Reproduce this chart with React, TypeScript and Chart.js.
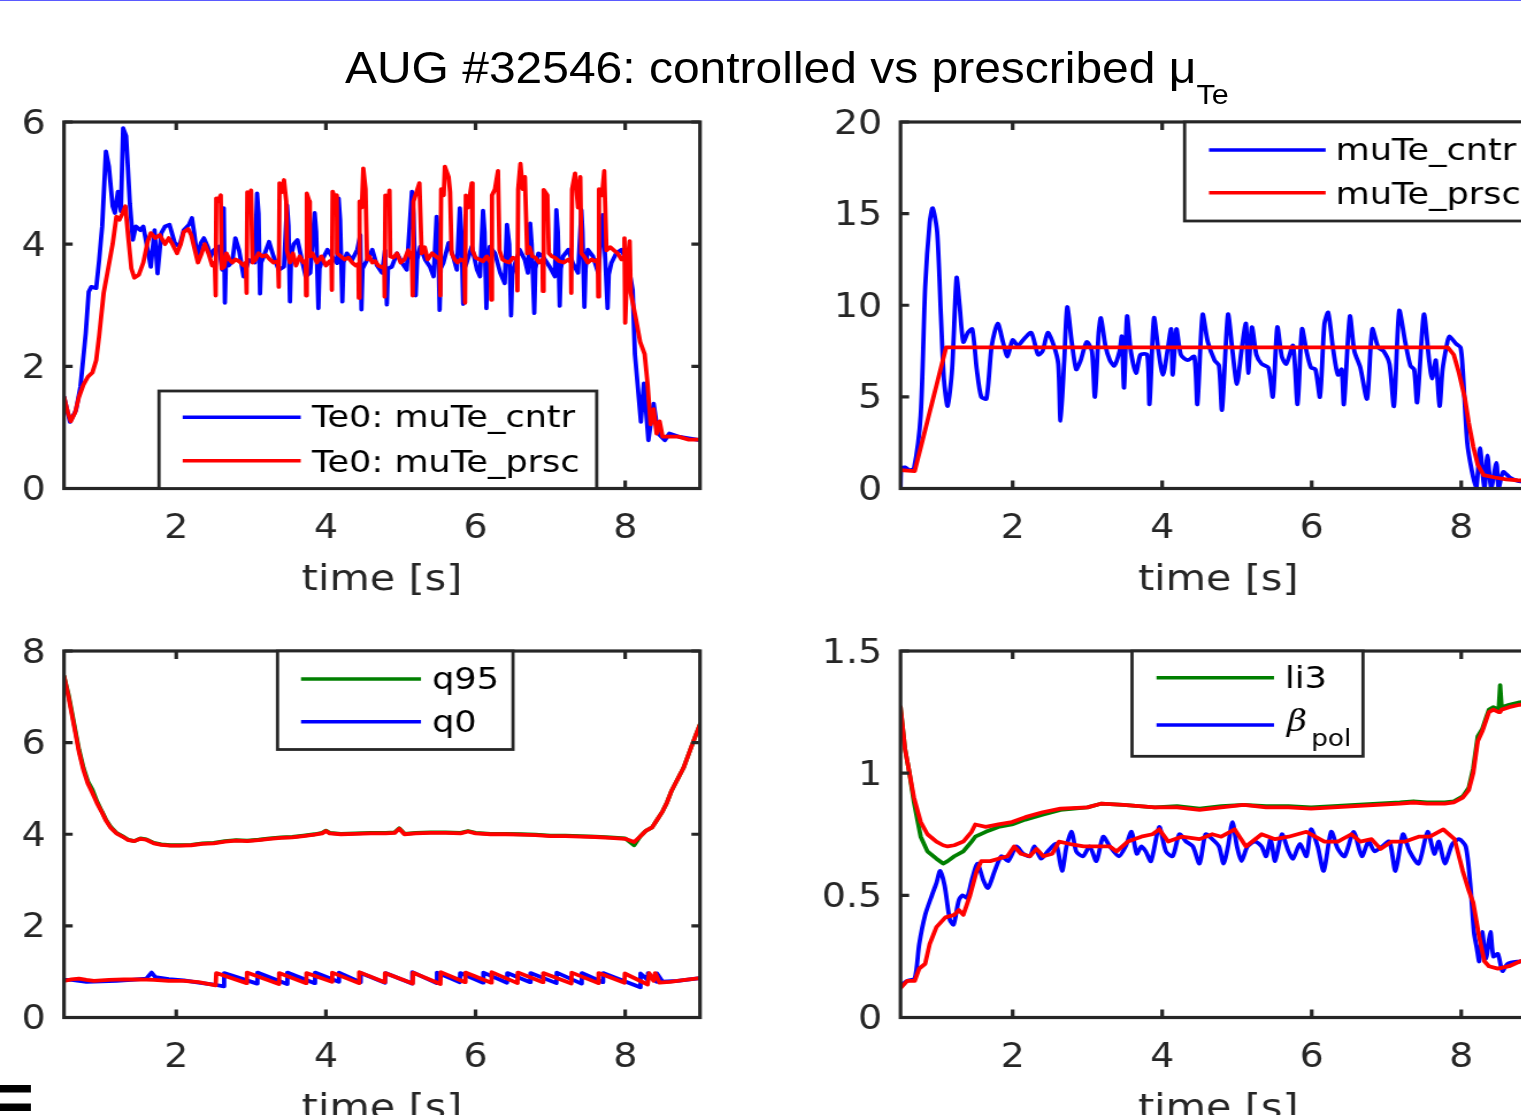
import React, { useEffect, useRef } from "react";
import { Chart, registerables } from "chart.js";
Chart.register(...registerables);

// ---------------- data ----------------
const xTicks = [2, 4, 6, 8];
const tlYTicks = [0, 2, 4, 6];
const trYTicks = [0, 5, 10, 15, 20];
const blYTicks = [0, 2, 4, 6, 8];
const brYTicks = [0, 0.5, 1, 1.5];

// Top-left: Te0, controlled (blue)
const teCntrT = [0.5, 0.58, 0.66, 0.72, 0.79, 0.83, 0.865, 0.93, 0.97, 1.01, 1.06, 1.1, 1.15, 1.18, 1.22, 1.26, 1.29, 1.33, 1.38, 1.42, 1.46, 1.52, 1.56, 1.61, 1.66, 1.71, 1.75, 1.8, 1.85, 1.91, 1.98, 2.04, 2.1, 2.17, 2.21, 2.24, 2.28, 2.33, 2.37, 2.42, 2.46, 2.5, 2.57, 2.615, 2.635, 2.65, 2.665, 2.7, 2.75, 2.79, 2.84, 2.9, 2.97, 3.05, 3.08, 3.1, 3.12, 3.135, 3.17, 3.24, 3.3, 3.37, 3.44, 3.48, 3.5, 3.52, 3.535, 3.57, 3.62, 3.68, 3.73, 3.79, 3.85, 3.87, 3.9, 3.915, 3.95, 4.02, 4.08, 4.15, 4.17, 4.19, 4.22, 4.235, 4.28, 4.35, 4.42, 4.46, 4.475, 4.49, 4.55, 4.62, 4.68, 4.75, 4.79, 4.815, 4.83, 4.88, 4.95, 5.02, 5.08, 5.15, 5.17, 5.2, 5.22, 5.26, 5.33, 5.39, 5.44, 5.48, 5.5, 5.52, 5.535, 5.57, 5.64, 5.7, 5.75, 5.79, 5.81, 5.835, 5.85, 5.88, 5.95, 6.02, 6.06, 6.1, 6.12, 6.145, 6.16, 6.19, 6.26, 6.33, 6.39, 6.42, 6.45, 6.475, 6.49, 6.53, 6.59, 6.66, 6.7, 6.73, 6.75, 6.785, 6.8, 6.84, 6.9, 6.99, 7.06, 7.08, 7.1, 7.125, 7.14, 7.17, 7.24, 7.3, 7.37, 7.415, 7.43, 7.455, 7.47, 7.5, 7.57, 7.64, 7.7, 7.72, 7.765, 7.78, 7.815, 7.88, 7.95, 8.015, 8.06, 8.1, 8.13, 8.21, 8.25, 8.31, 8.38, 8.44, 8.53, 8.59, 8.71, 8.85, 9.0];
const teCntrV = [1.5, 1.09, 1.28, 1.67, 2.54, 3.22, 3.3, 3.28, 3.74, 4.29, 5.52, 5.27, 4.62, 4.51, 4.86, 4.54, 5.9, 5.77, 4.67, 4.07, 4.29, 4.23, 4.29, 3.96, 3.63, 4.23, 3.52, 4.18, 4.29, 4.32, 4.02, 3.96, 4.23, 4.32, 4.43, 4.18, 3.8, 4.02, 4.1, 3.96, 3.8, 3.9, 3.96, 3.58, 4.59, 3.04, 3.75, 3.65, 3.72, 4.1, 3.9, 3.47, 3.74, 3.7, 4.83, 4.5, 3.19, 3.7, 3.8, 4.04, 3.8, 3.58, 3.63, 4.64, 4.3, 3.06, 3.8, 4.0, 4.07, 3.74, 3.47, 3.53, 4.51, 4.2, 2.95, 3.6, 3.74, 3.91, 3.8, 3.69, 4.75, 4.4, 3.06, 3.7, 3.85, 3.74, 3.91, 4.15, 2.93, 3.6, 3.74, 3.91, 3.66, 3.53, 3.9, 3.01, 3.6, 3.63, 3.85, 3.69, 3.58, 4.86, 4.5, 3.16, 3.75, 3.96, 3.74, 3.63, 3.47, 4.45, 4.1, 2.92, 3.6, 3.69, 4.02, 3.8, 3.58, 4.59, 4.2, 3.02, 3.6, 3.69, 3.96, 3.58, 3.47, 4.55, 4.2, 2.95, 3.7, 3.96, 3.85, 3.53, 3.36, 4.32, 4.0, 2.83, 3.5, 3.69, 3.91, 3.74, 3.53, 4.34, 4.0, 2.87, 3.6, 3.85, 3.8, 3.63, 3.47, 4.56, 4.2, 2.99, 3.6, 3.8, 3.91, 3.69, 3.53, 4.56, 4.2, 2.97, 3.6, 3.91, 3.8, 3.53, 4.48, 4.1, 2.95, 3.5, 3.69, 3.85, 3.91, 3.74, 3.53, 3.25, 2.2, 1.09, 1.72, 0.79, 1.39, 0.9, 0.79, 0.9, 0.85, 0.82, 0.79];

// Top-left: Te0, prescribed (red)
const tePrscT = [0.5, 0.55, 0.59, 0.65, 0.7, 0.76, 0.82, 0.88, 0.93, 0.97, 1.03, 1.09, 1.15, 1.2, 1.24, 1.28, 1.32, 1.36, 1.4, 1.44, 1.5, 1.56, 1.62, 1.66, 1.72, 1.78, 1.85, 1.9, 1.95, 2.01, 2.06, 2.1, 2.16, 2.2, 2.25, 2.29, 2.34, 2.38, 2.43, 2.48, 2.515, 2.527, 2.535, 2.555, 2.595, 2.607, 2.64, 2.67, 2.71, 2.75, 2.79, 2.84, 2.9, 2.93, 2.94, 2.95, 2.98, 3.0, 3.02, 3.06, 3.1, 3.15, 3.2, 3.25, 3.3, 3.36, 3.37, 3.38, 3.41, 3.44, 3.47, 3.48, 3.52, 3.56, 3.6, 3.65, 3.7, 3.73, 3.735, 3.745, 3.78, 3.785, 3.82, 3.88, 3.94, 4.0, 4.05, 4.075, 4.08, 4.09, 4.12, 4.145, 4.15, 4.2, 4.25, 4.3, 4.35, 4.4, 4.435, 4.44, 4.45, 4.48, 4.5, 4.53, 4.55, 4.58, 4.62, 4.66, 4.7, 4.75, 4.78, 4.785, 4.795, 4.83, 4.85, 4.86, 4.9, 4.95, 5.0, 5.05, 5.1, 5.15, 5.16, 5.17, 5.21, 5.25, 5.28, 5.32, 5.36, 5.42, 5.47, 5.52, 5.53, 5.54, 5.575, 5.59, 5.64, 5.66, 5.68, 5.72, 5.76, 5.8, 5.85, 5.86, 5.87, 5.9, 5.95, 5.96, 6.0, 6.05, 6.1, 6.15, 6.2, 6.21, 6.22, 6.26, 6.3, 6.32, 6.36, 6.4, 6.45, 6.5, 6.55, 6.56, 6.57, 6.6, 6.63, 6.66, 6.69, 6.72, 6.76, 6.8, 6.85, 6.895, 6.9, 6.91, 6.96, 6.98, 7.02, 7.06, 7.12, 7.18, 7.24, 7.275, 7.28, 7.29, 7.33, 7.37, 7.4, 7.415, 7.45, 7.5, 7.55, 7.6, 7.635, 7.64, 7.65, 7.69, 7.72, 7.75, 7.8, 7.85, 7.9, 7.95, 7.985, 7.99, 8.0, 8.03, 8.06, 8.075, 8.14, 8.2, 8.26, 8.3, 8.34, 8.38, 8.42, 8.46, 8.5, 8.6, 8.71, 8.85, 9.0];
const tePrscV = [1.5, 1.25, 1.1, 1.25, 1.5, 1.7, 1.83, 1.9, 2.1, 2.5, 3.2, 3.6, 4.0, 4.45, 4.4, 4.5, 4.62, 4.1, 3.6, 3.45, 3.5, 3.7, 4.05, 4.18, 4.1, 4.15, 4.0, 4.1, 4.0, 3.85, 4.0, 4.2, 4.25, 4.15, 3.9, 3.7, 3.85, 4.0, 3.85, 3.65, 3.7, 3.16, 4.75, 4.7, 4.8, 3.6, 3.63, 3.85, 3.75, 3.7, 3.75, 3.72, 3.65, 3.7, 3.2, 4.85, 4.8, 4.88, 3.7, 3.75, 3.85, 3.8, 3.82, 3.75, 3.7, 3.72, 3.3, 5.0, 4.85, 5.05, 4.7, 3.9, 3.7, 3.85, 3.65, 3.8, 3.7, 3.72, 3.16, 4.83, 4.7, 3.8, 3.85, 3.7, 3.8, 3.65, 3.72, 3.7, 3.25, 4.86, 4.75, 4.8, 3.85, 3.8, 3.75, 3.78, 3.7, 3.65, 3.68, 3.12, 4.7, 4.6, 5.24, 4.9, 3.75, 3.8, 3.7, 3.72, 3.65, 3.62, 3.65, 3.14, 4.8, 4.65, 4.88, 3.8, 3.78, 3.85, 3.7, 3.75, 3.9, 3.75, 3.16, 4.7, 4.85, 5.0, 3.85, 3.95, 3.75, 3.85, 3.8, 3.75, 3.16, 4.9, 4.8, 5.27, 5.1, 4.85, 3.85, 3.75, 3.7, 3.75, 3.72, 3.04, 4.8, 4.6, 5.0, 3.9, 3.78, 3.75, 3.72, 3.8, 3.7, 3.09, 4.8, 4.9, 5.2, 3.9, 3.75, 3.72, 3.7, 3.78, 3.75, 3.24, 4.9, 5.32, 4.9, 5.1, 3.85, 3.95, 3.8, 3.78, 3.7, 3.75, 3.23, 4.89, 4.8, 3.85, 3.8, 3.78, 3.72, 3.7, 3.75, 3.7, 3.2, 4.9, 5.16, 4.6, 5.1, 3.85, 3.8, 3.7, 3.75, 3.72, 3.75, 3.14, 4.9, 4.8, 5.2, 3.9, 3.95, 3.9, 3.85, 3.75, 3.8, 4.1, 2.71, 3.7, 4.05, 3.2, 2.8, 2.4, 2.2, 1.7, 1.05, 1.3, 0.9, 1.1, 0.85, 0.85, 0.85, 0.8, 0.8];

// Top-right: muTe
const muCntrT = [0.5, 0.51, 0.56, 0.62, 0.68, 0.77, 0.83, 0.89, 0.93, 0.99, 1.04, 1.08, 1.13, 1.19, 1.25, 1.29, 1.34, 1.4, 1.46, 1.52, 1.58, 1.65, 1.72, 1.8, 1.87, 1.93, 2.0, 2.07, 2.16, 2.25, 2.34, 2.4, 2.47, 2.55, 2.61, 2.64, 2.69, 2.73, 2.79, 2.85, 2.91, 2.99, 3.06, 3.1, 3.15, 3.18, 3.24, 3.3, 3.36, 3.43, 3.46, 3.49, 3.53, 3.58, 3.65, 3.71, 3.8, 3.83, 3.89, 3.95, 4.01, 4.07, 4.12, 4.14, 4.19, 4.25, 4.34, 4.43, 4.47, 4.54, 4.61, 4.7, 4.76, 4.8, 4.88, 4.94, 5.0, 5.06, 5.12, 5.15, 5.2, 5.26, 5.33, 5.42, 5.48, 5.54, 5.6, 5.66, 5.75, 5.81, 5.87, 5.93, 5.99, 6.05, 6.11, 6.17, 6.22, 6.29, 6.35, 6.4, 6.43, 6.51, 6.57, 6.65, 6.74, 6.81, 6.89, 6.96, 7.04, 7.1, 7.17, 7.25, 7.32, 7.37, 7.41, 7.5, 7.57, 7.61, 7.66, 7.71, 7.75, 7.81, 7.84, 7.93, 7.99, 8.02, 8.08, 8.14, 8.2, 8.25, 8.31, 8.35, 8.4, 8.47, 8.5, 8.56, 8.65, 8.77, 9.0];
const muCntrV = [0.0, 1.1, 1.15, 1.0, 1.1, 4.0, 11.0, 14.5, 15.3, 14.0, 9.5, 6.0, 4.5, 6.5, 11.5, 10.0, 8.0, 8.5, 8.7, 6.5, 5.0, 4.9, 7.8, 9.0, 8.0, 7.2, 8.1, 7.8, 8.2, 8.5, 7.3, 7.5, 8.5, 7.8, 6.8, 3.7, 7.0, 9.9, 8.0, 6.5, 7.0, 8.0, 7.5, 5.0, 8.5, 9.3, 7.8, 7.0, 6.7, 7.5, 8.3, 5.5, 9.4, 7.5, 6.3, 7.3, 7.3, 4.6, 9.3, 7.5, 6.2, 7.5, 8.7, 6.2, 8.7, 7.3, 7.0, 7.2, 4.6, 9.5, 8.0, 7.0, 6.7, 4.3, 9.5, 7.5, 5.7, 7.5, 9.0, 6.3, 8.8, 7.3, 6.8, 6.6, 5.0, 8.8, 7.2, 6.8, 7.8, 4.6, 8.7, 7.5, 6.6, 6.5, 5.0, 9.0, 9.6, 7.5, 6.2, 6.5, 4.6, 9.4, 7.5, 6.6, 4.9, 8.7, 7.7, 7.5, 6.8, 4.5, 9.7, 8.0, 6.7, 6.5, 4.7, 9.5, 7.0, 6.0, 7.0, 4.5, 6.5, 7.9, 8.3, 7.9, 7.7, 6.5, 2.5, 1.0, 0.0, 2.2, 0.0, 1.8, 0.0, 1.4, 0.0, 0.9, 0.6, 0.4, 0.35];
const muPrscT = [0.5, 0.69, 1.11, 7.82, 7.9, 7.97, 8.05, 8.1, 8.16, 8.22, 8.3, 8.45, 8.6, 8.75, 9.0];
const muPrscV = [1.0, 0.95, 7.7, 7.7, 7.3, 6.3, 4.9, 3.6, 2.3, 1.3, 0.73, 0.6, 0.5, 0.45, 0.4];

// Bottom-left: q95 and q0
const q95T = [0.5, 0.56, 0.63, 0.7, 0.76, 0.82, 0.88, 0.94, 1.0, 1.06, 1.12, 1.2, 1.28, 1.36, 1.44, 1.52, 1.6, 1.7, 1.8, 1.92, 2.05, 2.2, 2.35, 2.5, 2.65, 2.8, 2.95, 3.1, 3.25, 3.4, 3.55, 3.7, 3.85, 3.95, 4.0, 4.05, 4.2, 4.4, 4.6, 4.8, 4.92, 4.98, 5.05, 5.2, 5.4, 5.6, 5.8, 5.9, 6.0, 6.2, 6.4, 6.6, 6.8, 7.0, 7.2, 7.4, 7.6, 7.8, 8.0, 8.12, 8.2, 8.28, 8.36, 8.44, 8.5, 8.56, 8.62, 8.7, 8.78, 8.86, 8.94, 9.0];
const q95CntrV = [7.45, 7.05, 6.45, 5.85, 5.45, 5.15, 4.97, 4.72, 4.52, 4.32, 4.17, 4.03, 3.96, 3.88, 3.85, 3.91, 3.89, 3.81, 3.78, 3.76, 3.76, 3.77, 3.8, 3.81, 3.85, 3.87, 3.86, 3.88, 3.91, 3.93, 3.94, 3.97, 4.0, 4.03, 4.08, 4.03, 4.01, 4.02, 4.03, 4.03, 4.04, 4.13, 4.01, 4.03, 4.04, 4.04, 4.03, 4.07, 4.03, 4.01, 4.01, 4.0, 3.99, 3.97, 3.97, 3.96, 3.95, 3.93, 3.91, 3.76, 3.95, 4.08, 4.15, 4.35, 4.5, 4.7, 4.95, 5.2, 5.45, 5.8, 6.15, 6.4];
const q95PrscV = [7.45, 7.0, 6.4, 5.8, 5.4, 5.1, 4.9, 4.68, 4.5, 4.3, 4.15, 4.02, 3.95, 3.87, 3.85, 3.9, 3.88, 3.8, 3.77, 3.75, 3.75, 3.76, 3.79, 3.8, 3.84, 3.86, 3.85, 3.87, 3.9, 3.92, 3.93, 3.96, 3.99, 4.02, 4.07, 4.02, 4.0, 4.01, 4.02, 4.02, 4.03, 4.12, 4.0, 4.02, 4.03, 4.03, 4.02, 4.06, 4.02, 4.0, 4.0, 3.99, 3.98, 3.96, 3.96, 3.95, 3.94, 3.92, 3.9, 3.83, 3.95, 4.08, 4.15, 4.35, 4.5, 4.7, 4.95, 5.2, 5.45, 5.8, 6.15, 6.4];
const q0CntrT = [0.5, 0.6, 0.7, 0.8, 1.0, 1.2, 1.4, 1.6, 1.67, 1.72, 1.9, 2.1, 2.3, 2.5, 2.635, 2.64, 3.08, 3.085, 3.48, 3.485, 3.85, 3.855, 4.17, 4.175, 4.46, 4.465, 4.79, 4.795, 5.15, 5.155, 5.48, 5.485, 5.79, 5.795, 6.1, 6.105, 6.42, 6.425, 6.73, 6.735, 7.08, 7.085, 7.415, 7.42, 7.7, 7.705, 8.2, 8.205, 8.3, 8.305, 8.42, 8.425, 8.5, 8.7, 9.0];
const q0CntrV = [0.82, 0.82, 0.8, 0.78, 0.79, 0.8, 0.82, 0.85, 0.98, 0.88, 0.84, 0.81, 0.76, 0.72, 0.68, 0.97, 0.74, 0.98, 0.73, 0.98, 0.75, 0.98, 0.78, 0.98, 0.77, 0.97, 0.76, 0.97, 0.74, 0.99, 0.75, 0.98, 0.77, 0.97, 0.76, 0.98, 0.76, 0.97, 0.77, 0.97, 0.75, 0.98, 0.74, 0.97, 0.77, 0.97, 0.66, 0.96, 0.82, 0.97, 0.78, 0.96, 0.78, 0.8, 0.86];
const q0PrscT = [0.5, 0.6, 0.7, 0.8, 0.9, 1.1, 1.3, 1.5, 1.7, 1.9, 2.1, 2.3, 2.527, 2.535, 2.94, 2.945, 3.37, 3.375, 3.735, 3.74, 4.08, 4.085, 4.44, 4.445, 4.785, 4.79, 5.16, 5.165, 5.53, 5.535, 5.86, 5.865, 6.21, 6.215, 6.56, 6.565, 6.9, 6.905, 7.28, 7.285, 7.64, 7.645, 7.99, 7.995, 8.3, 8.32, 8.38, 8.4, 8.46, 8.6, 8.8, 9.0];
const q0PrscV = [0.8, 0.83, 0.85, 0.82, 0.8, 0.82, 0.83, 0.83, 0.82, 0.8, 0.8, 0.77, 0.7, 0.97, 0.75, 0.98, 0.73, 0.97, 0.75, 0.97, 0.78, 0.98, 0.75, 0.99, 0.77, 0.97, 0.74, 0.98, 0.73, 0.99, 0.77, 0.98, 0.76, 0.99, 0.75, 0.98, 0.77, 0.97, 0.74, 0.98, 0.75, 0.97, 0.76, 0.96, 0.72, 0.97, 0.8, 0.97, 0.76, 0.78, 0.82, 0.86];

// Bottom-right: li3 and beta_pol
const li3T = [0.5, 0.56, 0.62, 0.68, 0.77, 0.86, 0.98, 1.07, 1.13, 1.22, 1.34, 1.45, 1.5, 1.64, 1.81, 1.99, 2.17, 2.4, 2.64, 3.0, 3.18, 3.48, 3.9, 4.2, 4.5, 4.79, 5.09, 5.39, 5.69, 5.99, 6.29, 6.58, 6.88, 7.18, 7.36, 7.54, 7.78, 7.9, 8.02, 8.1, 8.16, 8.22, 8.28, 8.37, 8.43, 8.5, 8.52, 8.54, 8.64, 8.78, 9.0];
const li3CntrV = [1.27, 1.1, 1.0, 0.88, 0.74, 0.68, 0.65, 0.63, 0.64, 0.66, 0.68, 0.72, 0.74, 0.76, 0.78, 0.79, 0.81, 0.83, 0.85, 0.86, 0.875, 0.87, 0.86, 0.865, 0.855, 0.865, 0.87, 0.865, 0.865, 0.86, 0.865, 0.87, 0.875, 0.88, 0.885, 0.88, 0.88, 0.885, 0.905, 0.94, 1.02, 1.15, 1.18, 1.26, 1.27, 1.26, 1.36, 1.27, 1.28, 1.29, 1.3];
const li3PrscV = [1.27, 1.1, 1.0, 0.9, 0.8, 0.75, 0.72, 0.705, 0.7, 0.705, 0.72, 0.76, 0.79, 0.78, 0.79, 0.8, 0.82, 0.84, 0.855, 0.86, 0.875, 0.87, 0.86, 0.86, 0.85, 0.86, 0.87, 0.86, 0.86, 0.855, 0.86, 0.865, 0.87, 0.875, 0.88, 0.875, 0.875, 0.88, 0.9, 0.93, 1.0, 1.13, 1.17, 1.25, 1.26, 1.25, 1.25, 1.26, 1.27, 1.28, 1.29];
const bpCntrT = [0.5, 0.59, 0.69, 0.75, 0.83, 0.92, 0.98, 1.03, 1.09, 1.16, 1.21, 1.28, 1.33, 1.39, 1.46, 1.53, 1.61, 1.67, 1.76, 1.85, 1.94, 2.05, 2.14, 2.23, 2.29, 2.38, 2.47, 2.58, 2.66, 2.72, 2.79, 2.85, 2.94, 3.03, 3.12, 3.21, 3.3, 3.42, 3.51, 3.59, 3.66, 3.72, 3.78, 3.85, 3.96, 4.05, 4.14, 4.23, 4.32, 4.41, 4.5, 4.58, 4.67, 4.76, 4.82, 4.88, 4.94, 5.0, 5.06, 5.14, 5.24, 5.33, 5.39, 5.45, 5.51, 5.6, 5.69, 5.75, 5.84, 5.93, 5.99, 6.08, 6.16, 6.26, 6.35, 6.44, 6.56, 6.67, 6.76, 6.84, 6.94, 7.04, 7.12, 7.22, 7.31, 7.43, 7.55, 7.64, 7.7, 7.78, 7.88, 7.97, 8.06, 8.12, 8.17, 8.21, 8.24, 8.28, 8.33, 8.39, 8.43, 8.49, 8.55, 8.62, 8.79, 9.0];
const bpCntrV = [0.13, 0.15, 0.16, 0.3, 0.42, 0.5, 0.55, 0.6, 0.54, 0.4, 0.38, 0.48, 0.5, 0.49, 0.57, 0.63, 0.56, 0.53, 0.6, 0.66, 0.64, 0.7, 0.67, 0.66, 0.7, 0.65, 0.68, 0.71, 0.6, 0.7, 0.76, 0.68, 0.66, 0.7, 0.64, 0.74, 0.7, 0.66, 0.7, 0.76, 0.67, 0.7, 0.68, 0.64, 0.78, 0.68, 0.66, 0.75, 0.72, 0.7, 0.63, 0.75, 0.73, 0.7, 0.63, 0.7, 0.8, 0.7, 0.64, 0.7, 0.72, 0.7, 0.66, 0.73, 0.64, 0.75, 0.68, 0.65, 0.71, 0.66, 0.77, 0.7, 0.6, 0.76, 0.69, 0.66, 0.76, 0.66, 0.72, 0.68, 0.7, 0.72, 0.6, 0.75, 0.68, 0.63, 0.76, 0.67, 0.72, 0.63, 0.71, 0.73, 0.7, 0.55, 0.35, 0.28, 0.23, 0.35, 0.24, 0.35, 0.25, 0.26, 0.19, 0.22, 0.23, 0.24];
const bpPrscT = [0.5, 0.59, 0.69, 0.75, 0.83, 0.89, 0.98, 1.1, 1.22, 1.28, 1.34, 1.43, 1.52, 1.58, 1.7, 1.81, 1.93, 2.02, 2.11, 2.23, 2.32, 2.41, 2.53, 2.62, 2.77, 2.95, 3.12, 3.3, 3.39, 3.54, 3.72, 3.87, 3.96, 4.08, 4.26, 4.5, 4.67, 4.79, 4.97, 5.12, 5.33, 5.51, 5.69, 5.93, 6.17, 6.35, 6.53, 6.65, 6.8, 6.92, 7.07, 7.25, 7.43, 7.58, 7.76, 7.91, 8.02, 8.1, 8.16, 8.24, 8.31, 8.37, 8.49, 8.64, 8.79, 9.0];
const bpPrscV = [0.12, 0.15, 0.15, 0.2, 0.22, 0.3, 0.37, 0.41, 0.42, 0.44, 0.42, 0.5, 0.6, 0.64, 0.64, 0.65, 0.66, 0.7, 0.67, 0.66, 0.69, 0.66, 0.67, 0.72, 0.71, 0.7, 0.7, 0.7, 0.68, 0.72, 0.74, 0.75, 0.77, 0.72, 0.74, 0.73, 0.75, 0.74, 0.77, 0.7, 0.75, 0.73, 0.74, 0.76, 0.72, 0.72, 0.75, 0.72, 0.73, 0.69, 0.72, 0.72, 0.74, 0.74, 0.77, 0.73, 0.6, 0.52, 0.47, 0.33, 0.23, 0.21, 0.2, 0.21, 0.23, 0.25];

// ---------------- styling / layout ----------------
const SX = 1.15; // horizontal stretch of each panel
const CANVAS_H = 520;
const TEXT = "#262626";
const BLUE = "#0000ff";
const RED = "#ff0000";
const GREEN = "#007f00";
const FONT = '"DejaVu Sans", sans-serif';
const LW = 3.8;

type Line = { label: string; color: string; t: number[]; v: number[]; order: number; tension?: number };
type LegendRow = { line: number; y: number; base: number; greek?: string; sub?: string };
type Legend = { x0: number; y0: number; x1: number; y1: number; lx0: number; lx1: number; tx: number; rows: LegendRow[] };
type PanelCfg = {
  wrapLeft: number; canvasTop: number; canvasW: number;
  plotLeft: number; plotRight: number; plotTop: number; plotBottom: number;
  yMin: number; yMax: number; yTicks: number[];
  lines: Line[]; legend: Legend;
};

const PANELS: PanelCfg[] = [
  {
    wrapLeft: 0, canvasTop: 100, canvasW: 661,
    plotLeft: 64, plotRight: 700, plotTop: 122, plotBottom: 488.5,
    yMin: 0, yMax: 6, yTicks: tlYTicks,
    lines: [
      { label: "Te0: muTe_cntr", color: BLUE, t: teCntrT, v: teCntrV, order: 2 },
      { label: "Te0: muTe_prsc", color: RED, t: tePrscT, v: tePrscV, order: 1 },
    ],
    legend: { x0: 159, y0: 391, x1: 596.7, y1: 488.5, lx0: 182.7, lx1: 300.7, tx: 312,
      rows: [{ line: 0, y: 417.3, base: 427.3 }, { line: 1, y: 460.7, base: 471.7 }] },
  },
  {
    wrapLeft: 760, canvasTop: 100, canvasW: 720,
    plotLeft: 900.5, plotRight: 1536, plotTop: 122, plotBottom: 488.5,
    yMin: 0, yMax: 20, yTicks: trYTicks,
    lines: [
      { label: "muTe_cntr", color: BLUE, t: muCntrT, v: muCntrV, order: 2, tension: 0.25 },
      { label: "muTe_prsc", color: RED, t: muPrscT, v: muPrscV, order: 1 },
    ],
    legend: { x0: 1184.6, y0: 122, x1: 1700, y1: 221, lx0: 1209, lx1: 1325.6, tx: 1335.5,
      rows: [{ line: 0, y: 150, base: 160 }, { line: 1, y: 192.7, base: 204 }] },
  },
  {
    wrapLeft: 0, canvasTop: 629, canvasW: 661,
    plotLeft: 64, plotRight: 700, plotTop: 651, plotBottom: 1017.5,
    yMin: 0, yMax: 8, yTicks: blYTicks,
    lines: [
      { label: "q95", color: GREEN, t: q95T, v: q95CntrV, order: 3 },
      { label: "q0", color: BLUE, t: q0CntrT, v: q0CntrV, order: 3 },
      { label: "q95 prsc", color: RED, t: q95T, v: q95PrscV, order: 1 },
      { label: "q0 prsc", color: RED, t: q0PrscT, v: q0PrscV, order: 1 },
    ],
    legend: { x0: 277.5, y0: 651, x1: 513, y1: 749.5, lx0: 301, lx1: 421, tx: 432,
      rows: [{ line: 0, y: 679, base: 689.3 }, { line: 1, y: 721.7, base: 731.7 }] },
  },
  {
    wrapLeft: 760, canvasTop: 629, canvasW: 720,
    plotLeft: 900.5, plotRight: 1536, plotTop: 651, plotBottom: 1017.5,
    yMin: 0, yMax: 1.5, yTicks: brYTicks,
    lines: [
      { label: "li3", color: GREEN, t: li3T, v: li3CntrV, order: 3 },
      { label: "β", color: BLUE, t: bpCntrT, v: bpCntrV, order: 3, tension: 0.25 },
      { label: "li3 prsc", color: RED, t: li3T, v: li3PrscV, order: 1 },
      { label: "βpol prsc", color: RED, t: bpPrscT, v: bpPrscV, order: 1 },
    ],
    legend: { x0: 1132, y0: 651, x1: 1363, y1: 756.3, lx0: 1156.5, lx1: 1274, tx: 1285,
      rows: [{ line: 0, y: 677.7, base: 688.3 }, { line: 1, y: 725, base: 731, greek: "β", sub: "pol" }] },
  },
];

function framePlugin(cfg: PanelCfg) {
  const dx = (xs: number) => (xs - cfg.wrapLeft) / SX;
  const dy = (ys: number) => ys - cfg.canvasTop;
  return {
    id: "frame",
    afterDatasetsDraw(chart: any) {
      const { ctx, chartArea: a, scales } = chart;
      ctx.save();
      ctx.strokeStyle = TEXT;
      ctx.lineWidth = 3.2;
      ctx.lineCap = "butt";
      ctx.beginPath();
      for (const v of xTicks) {
        const px = scales.x.getPixelForValue(v);
        ctx.moveTo(px, a.bottom); ctx.lineTo(px, a.bottom - 8);
        ctx.moveTo(px, a.top); ctx.lineTo(px, a.top + 8);
      }
      for (const v of cfg.yTicks) {
        const py = scales.y.getPixelForValue(v);
        ctx.moveTo(a.left, py); ctx.lineTo(a.left + 7.5, py);
        ctx.moveTo(a.right, py); ctx.lineTo(a.right - 7.5, py);
      }
      ctx.stroke();
      ctx.strokeRect(a.left, a.top, a.right - a.left, a.bottom - a.top);

      // legend
      const L = cfg.legend;
      const x0 = dx(L.x0), x1 = dx(L.x1), y0 = dy(L.y0), y1 = dy(L.y1);
      ctx.fillStyle = "#ffffff";
      ctx.fillRect(x0, y0, x1 - x0, y1 - y0);
      ctx.lineWidth = 2.8;
      ctx.strokeStyle = TEXT;
      ctx.strokeRect(x0, y0, x1 - x0, y1 - y0);
      for (const r of L.rows) {
        const ln = cfg.lines[r.line];
        ctx.strokeStyle = ln.color;
        ctx.lineWidth = 3.6;
        ctx.beginPath();
        ctx.moveTo(dx(L.lx0), dy(r.y));
        ctx.lineTo(dx(L.lx1), dy(r.y));
        ctx.stroke();
        ctx.fillStyle = "#000000";
        ctx.textBaseline = "alphabetic";
        ctx.textAlign = "left";
        if (r.greek) {
          ctx.font = `italic 30px "DejaVu Serif", serif`;
          ctx.fillText(r.greek, dx(L.tx + 2), dy(r.base));
          ctx.font = `23px ${FONT}`;
          ctx.fillText(r.sub || "", dx(1311), dy(746));
        } else {
          ctx.font = `30.5px ${FONT}`;
          ctx.fillText(ln.label, dx(L.tx), dy(r.base));
        }
      }
      ctx.restore();
    },
  };
}

function Panel({ cfg }: { cfg: PanelCfg }) {
  const ref = useRef<HTMLCanvasElement | null>(null);
  useEffect(() => {
    const c = ref.current;
    if (!c) return;
    const areaL = (cfg.plotLeft - cfg.wrapLeft) / SX;
    const areaR = (cfg.plotRight - cfg.wrapLeft) / SX;
    const padTop = cfg.plotTop - cfg.canvasTop;
    const plotH = cfg.plotBottom - cfg.plotTop;
    const chart = new Chart(c, {
      type: "line",
      data: {
        datasets: cfg.lines.map((l) => ({
          label: l.label,
          data: l.t.map((x, i) => ({ x, y: l.v[i] })),
          borderColor: l.color,
          backgroundColor: l.color,
          borderWidth: LW,
          pointRadius: 0,
          tension: l.tension || 0,
          fill: false,
          order: l.order,
          borderJoinStyle: "round" as const,
          borderCapStyle: "round" as const,
        })),
      },
      options: {
        responsive: false,
        animation: false,
        devicePixelRatio: 1,
        events: [],
        layout: { padding: { left: 0, top: padTop, right: cfg.canvasW - areaR, bottom: 0 } },
        plugins: { legend: { display: false }, tooltip: { enabled: false } },
        scales: {
          x: {
            type: "linear",
            min: 0.5,
            max: 9,
            grid: { display: false, drawTicks: false },
            border: { display: false },
            afterBuildTicks: (s: any) => { s.ticks = xTicks.map((value) => ({ value })); },
            afterFit: (s: any) => {
              s.height = CANVAS_H - padTop - plotH;
              s.paddingLeft = 0; s.paddingRight = 0;
            },
            ticks: {
              color: TEXT, font: { family: FONT, size: 33 }, padding: 21.5,
              maxRotation: 0, autoSkip: false, callback: (v: any) => String(v),
            },
            title: {
              display: true, text: "time [s]", color: TEXT,
              font: { family: FONT, size: 36 }, padding: { top: 0, bottom: 18 },
            },
          },
          y: {
            type: "linear",
            min: cfg.yMin,
            max: cfg.yMax,
            grid: { display: false, drawTicks: false },
            border: { display: false },
            afterBuildTicks: (s: any) => { s.ticks = cfg.yTicks.map((value) => ({ value })); },
            afterFit: (s: any) => {
              s.width = areaL;
              s.paddingTop = 0; s.paddingBottom = 0;
            },
            ticks: {
              color: TEXT, font: { family: FONT, size: 33 }, padding: 16, labelOffset: 3,
              callback: (v: any) => String(v),
            },
          },
        },
      },
      plugins: [framePlugin(cfg)],
    } as any);
    return () => chart.destroy();
  }, [cfg]);
  return (
    <div
      style={{
        position: "absolute", left: cfg.wrapLeft, top: cfg.canvasTop,
        width: cfg.canvasW, height: CANVAS_H,
        transform: `scaleX(${SX})`, transformOrigin: "0 0",
      }}
    >
      <canvas ref={ref} width={cfg.canvasW} height={CANVAS_H} style={{ display: "block" }} />
    </div>
  );
}

export default function App() {
  return (
    <div style={{ position: "absolute", left: 0, top: 0, width: 1521, height: 1115, overflow: "hidden", background: "#ffffff" }}>
      <div style={{ position: "absolute", left: 0, top: 0, width: 1521, height: 1, background: "#5a5aff" }} />
      <div
        style={{
          position: "absolute", left: 345, top: 46, whiteSpace: "nowrap",
          fontFamily: '"Liberation Sans", Arial, sans-serif', fontSize: 44, lineHeight: "44px",
          color: "#000", transform: "scaleX(1.09)", transformOrigin: "0 0",
        }}
      >
        AUG #32546: controlled vs prescribed μ
        <span style={{ fontSize: 28, position: "relative", top: 21 }}>Te</span>
      </div>
      {PANELS.map((p, i) => (
        <Panel key={i} cfg={p} />
      ))}
      <div
        style={{
          position: "absolute", left: -6, top: 1063, fontFamily: '"Liberation Sans", Arial, sans-serif',
          fontWeight: "bold", fontSize: 68, lineHeight: "68px", color: "#000",
        }}
      >
        =
      </div>
    </div>
  );
}
